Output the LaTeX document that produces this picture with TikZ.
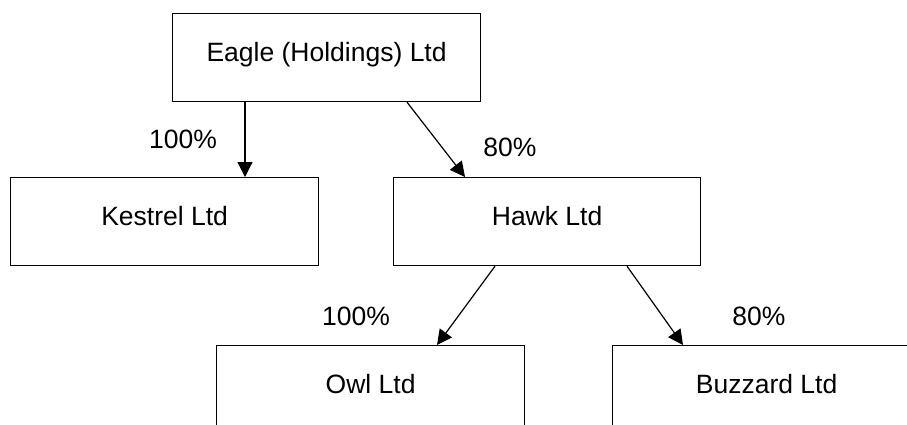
\documentclass[tikz,border=0pt]{standalone}
\usepackage{fontspec}
\setmainfont{Liberation Sans}
\usetikzlibrary{arrows.meta}
\tikzset{
  x=1pt, y=1pt,
  company/.style={draw, line width=1.2pt, minimum width=308pt, minimum height=88pt,
    inner sep=0pt, anchor=north west, text height=0.72em, text depth=0pt,
    font=\fontsize{26.5}{30}\selectfont},
  pct/.style={anchor=base, inner sep=0pt, font=\fontsize{26.5}{30}\selectfont},
  arr/.style={line width=1.2pt, -{Triangle[length=15pt,width=15pt]}, shorten >=0pt}
}
\begin{document}
\begin{tikzpicture}
\useasboundingbox (0,0) rectangle (907,-425);
\clip (0,0) rectangle (907,-425);
\node[company] (eagle) at (172,-13) {Eagle (Holdings) Ltd};
\node[company] (kestrel) at (10,-177) {Kestrel Ltd};
\node[company, minimum width=307pt] (hawk) at (393,-177) {Hawk Ltd};
\node[company] (owl) at (216,-345) {Owl Ltd};
\node[company] (buzzard) at (612,-345) {Buzzard Ltd};
\draw[arr] ([xshift=73pt]eagle.south west) -- ([xshift=73pt]eagle.south west |- kestrel.north);
\draw[arr] ([xshift=235pt]eagle.south west) -- ([xshift=72pt]hawk.north west);
\draw[arr] ([xshift=102pt]hawk.south west) -- ([xshift=221pt]owl.north west);
\draw[arr] ([xshift=234pt]hawk.south west) -- ([xshift=71pt]buzzard.north west);
\node[pct] (p1) at (183,-148) {100\%};
\node[pct] (p2) at (510,-157) {80\%};
\node[pct] (p3) at (356,-325) {100\%};
\node[pct] (p4) at (759,-325) {80\%};
\end{tikzpicture}
\end{document}
